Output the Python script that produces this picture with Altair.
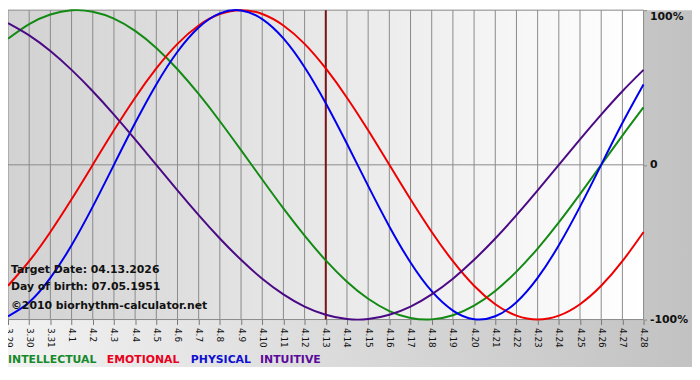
import altair as alt
import pandas as pd

# ---- data ----
days = ["3.29", "3.30", "3.31", "4.1", "4.2", "4.3", "4.4", "4.5", "4.6", "4.7",
        "4.8", "4.9", "4.10", "4.11", "4.12", "4.13", "4.14", "4.15", "4.16", "4.17",
        "4.18", "4.19", "4.20", "4.21", "4.22", "4.23", "4.24", "4.25", "4.26", "4.27", "4.28"]

intellectual = [0.815, 0.910, 0.972, 0.999, 0.990, 0.945, 0.866, 0.756, 0.618, 0.458, 0.282,
                0.095, -0.095, -0.282, -0.458, -0.618, -0.756, -0.866, -0.945, -0.990, -0.999,
                -0.972, -0.910, -0.815, -0.690, -0.541, -0.372, -0.189, 0.0, 0.189, 0.372]
emotional = [-0.782, -0.623, -0.434, -0.223, 0.0, 0.223, 0.434, 0.623, 0.782, 0.901, 0.975,
             1.0, 0.975, 0.901, 0.782, 0.623, 0.434, 0.223, 0.0, -0.223, -0.434, -0.623,
             -0.782, -0.901, -0.975, -1.0, -0.975, -0.901, -0.782, -0.623, -0.434]
physical = [-0.979, -0.888, -0.731, -0.520, -0.270, 0.0, 0.270, 0.520, 0.731, 0.888, 0.979,
            0.998, 0.942, 0.817, 0.631, 0.398, 0.136, -0.136, -0.398, -0.631, -0.817, -0.942,
            -0.998, -0.979, -0.888, -0.731, -0.520, -0.270, 0.0, 0.270, 0.520]
intuitive = [0.916, 0.837, 0.736, 0.614, 0.476, 0.325, 0.165, 0.0, -0.165, -0.325, -0.476,
             -0.614, -0.736, -0.837, -0.916, -0.969, -0.997, -0.997, -0.969, -0.916, -0.837,
             -0.736, -0.614, -0.476, -0.325, -0.165, 0.0, 0.165, 0.325, 0.476, 0.614]

series_names = ["INTELLECTUAL", "EMOTIONAL", "PHYSICAL", "INTUITIVE"]
line_colors = ["#138a13", "#ee0000", "#0000ee", "#4b0a85"]
legend_colors = ["#168a2a", "#e8001c", "#1010d0", "#5a0a9a"]

target_day = "4.13"
y_ticks = [-1, 0, 1]
info_lines = ["Target Date: 04.13.2026", "Day of birth: 07.05.1951", "©2010 biorhythm-calculator.net"]

# ---- layout ----
W, H = 643, 313
FONT = "DejaVu Sans"

rows = []
for name, vals in zip(series_names, [intellectual, emotional, physical, intuitive]):
    for d, v in zip(days, vals):
        rows.append({"day": d, "value": v, "series": name})
df = pd.DataFrame(rows)
days_df = pd.DataFrame({"day": days})
one = pd.DataFrame({"z": [0]})

xscale = alt.Scale(type="point", domain=days, padding=0)
yscale = alt.Scale(domain=[-1, 1])

outer_bg = alt.Chart(one).mark_rect(
    fill=alt.LinearGradient(gradient="linear", x1=0, x2=1, y1=0, y2=0,
                            stops=[alt.GradientStop(color="#f2f2f2", offset=0),
                                   alt.GradientStop(color="#c2c2c2", offset=1)])
).encode(x=alt.value(0), x2=alt.value(W + 49), y=alt.value(0), y2=alt.value(H + 48))

plot_bg = alt.Chart(one).mark_rect(
    fill=alt.LinearGradient(gradient="linear", x1=0, x2=1, y1=0, y2=0,
                            stops=[alt.GradientStop(color="#d2d2d2", offset=0),
                                   alt.GradientStop(color="#ffffff", offset=1)])
).encode(x=alt.value(0), x2=alt.value(W), y=alt.value(0), y2=alt.value(H))

vgrid = alt.Chart(days_df).mark_rule(color="#8a8a8a", strokeWidth=1).encode(
    x=alt.X("day:O", scale=xscale,
            axis=alt.Axis(orient="bottom", title=None, grid=False, domain=False,
                          ticks=True, tickSize=5, tickColor="#777777",
                          labelAngle=90, labelFont=FONT, labelFontSize=9,
                          labelColor="#111111", labelPadding=3, labelOverlap=False,
                          zindex=1))
)

hgrid = alt.Chart(pd.DataFrame({"v": y_ticks})).mark_rule(color="#8a8a8a", strokeWidth=1).encode(
    y=alt.Y("v:Q", scale=yscale,
            axis=alt.Axis(orient="right", title=None, values=y_ticks, grid=False,
                          domain=False, ticks=True, tickSize=3, tickColor="#8a8a8a",
                          labelExpr="datum.value == 1 ? '100%' : datum.value == 0 ? '0' : '-100%'",
                          labelBaseline=alt.condition("datum.value == 1", alt.value("top"), alt.value("middle")),
                          labelFont=FONT, labelFontSize=11, labelFontWeight="bold",
                          labelColor="#111111", labelPadding=3, zindex=1))
)

target_rule = alt.Chart(pd.DataFrame({"day": [target_day]})).mark_rule(
    color="#7a1414", strokeWidth=2
).encode(x=alt.X("day:O", scale=xscale))

lines = alt.Chart(df).mark_line(strokeWidth=2, interpolate="natural").encode(
    x=alt.X("day:O", scale=xscale),
    y=alt.Y("value:Q", scale=yscale),
    color=alt.Color("series:N", scale=alt.Scale(domain=series_names, range=line_colors), legend=None),
    detail="series:N",
)

info_y = [263, 280, 299]
info_layers = [
    alt.Chart(one).mark_text(text=t, align="left", baseline="middle", font=FONT,
                             fontSize=11, fontWeight="bold", color="#111111").encode(
        x=alt.value(3), y=alt.value(yy))
    for t, yy in zip(info_lines, info_y)
]

legend_x = [0, 100, 185, 255]
legend_layers = [
    alt.Chart(one).mark_text(text=n, align="left", baseline="middle", font=FONT,
                             fontSize=11, fontWeight="bold", color=c).encode(
        x=alt.value(lx), y=alt.value(H + 41))
    for n, c, lx in zip(series_names, legend_colors, legend_x)
]

chart = alt.layer(
    outer_bg, plot_bg, vgrid, hgrid, target_rule, lines, *info_layers, *legend_layers
).properties(
    width=W, height=H,
    padding={"left": 0, "top": 0, "right": 49, "bottom": 59},
    autosize=alt.AutoSizeParams(type="none"),
).configure_view(stroke=None).configure(background="#ffffff")

chart.save("out.html", embed_options={"renderer": "svg", "actions": False})
